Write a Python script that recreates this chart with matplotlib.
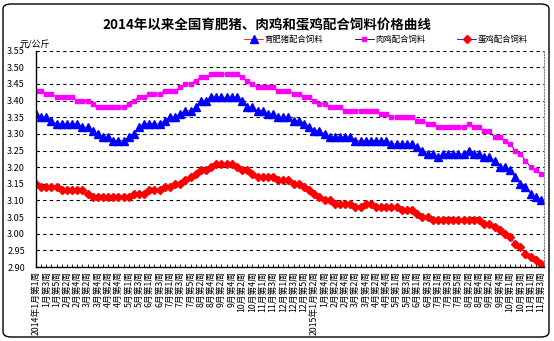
import numpy as np
import matplotlib
matplotlib.use('Agg')
import matplotlib.pyplot as plt
from matplotlib.patches import FancyBboxPatch
from matplotlib.ticker import FormatStrFormatter

plt.rcParams['font.family'] = ['Noto Sans CJK SC', 'DejaVu Sans']

title = '2014年以来全国育肥猪、肉鸡和蛋鸡配合饲料价格曲线'
names = ['育肥猪配合饲料', '肉鸡配合饲料', '蛋鸡配合饲料']

# tick labels, every other week
labels = ['2014年1月第1周', '1月第3周', '1月第5周', '2月第2周', '2月第4周', '3月第2周', '3月第4周',
          '4月第2周', '4月第4周', '5月第1周', '5月第3周', '6月第1周', '6月第3周', '7月第1周',
          '7月第3周', '7月第5周', '8月第2周', '8月第4周', '9月第2周', '9月第4周', '10月第2周',
          '10月第4周', '11月第1周', '11月第3周', '12月第1周', '12月第3周', '12月第5周',
          '2015年1月第2周', '1月第4周', '2月第2周', '2月第4周', '3月第2周', '3月第4周', '4月第2周',
          '4月第4周', '5月第1周', '5月第3周', '6月第1周', '6月第3周', '7月第1周', '7月第3周',
          '7月第5周', '8月第2周', '8月第4周', '9月第2周', '9月第4周', '10月第1周', '10月第3周',
          '11月第1周', '11月第3周']

# weekly prices, yuan/kg
hog = [3.36, 3.35, 3.35, 3.34, 3.33, 3.33, 3.33, 3.33, 3.33, 3.32,
       3.32, 3.31, 3.30, 3.29, 3.29, 3.28, 3.28, 3.28, 3.29, 3.30,
       3.32, 3.33, 3.33, 3.33, 3.33, 3.34, 3.35, 3.35, 3.36, 3.37,
       3.37, 3.38, 3.40, 3.40, 3.41, 3.41, 3.41, 3.41, 3.41, 3.41,
       3.40, 3.38, 3.38, 3.37, 3.37, 3.36, 3.36, 3.35, 3.35, 3.35,
       3.34, 3.34, 3.33, 3.32, 3.31, 3.31, 3.30, 3.29, 3.29, 3.29,
       3.29, 3.29, 3.28, 3.28, 3.28, 3.28, 3.28, 3.28, 3.28, 3.27,
       3.27, 3.27, 3.27, 3.27, 3.26, 3.25, 3.24, 3.24, 3.23, 3.24,
       3.24, 3.24, 3.24, 3.24, 3.25, 3.24, 3.24, 3.23, 3.23, 3.22,
       3.20, 3.20, 3.19, 3.17, 3.15, 3.14, 3.12, 3.11, 3.10]

broiler = [3.43, 3.43, 3.42, 3.42, 3.41, 3.41, 3.41, 3.41, 3.40, 3.40,
           3.40, 3.39, 3.38, 3.38, 3.38, 3.38, 3.38, 3.38, 3.39, 3.40,
           3.41, 3.41, 3.42, 3.42, 3.42, 3.43, 3.43, 3.43, 3.44, 3.45,
           3.45, 3.46, 3.47, 3.47, 3.48, 3.48, 3.48, 3.48, 3.48, 3.48,
           3.47, 3.46, 3.45, 3.44, 3.44, 3.44, 3.44, 3.43, 3.43, 3.43,
           3.42, 3.42, 3.41, 3.41, 3.40, 3.39, 3.39, 3.38, 3.38, 3.38,
           3.37, 3.37, 3.37, 3.37, 3.37, 3.37, 3.37, 3.36, 3.36, 3.35,
           3.35, 3.35, 3.35, 3.35, 3.34, 3.34, 3.33, 3.33, 3.32, 3.32,
           3.32, 3.32, 3.32, 3.32, 3.33, 3.32, 3.32, 3.31, 3.31, 3.29,
           3.29, 3.28, 3.27, 3.25, 3.24, 3.22, 3.20, 3.19, 3.18]

layer = [3.15, 3.14, 3.14, 3.14, 3.14, 3.13, 3.13, 3.13, 3.13, 3.13,
         3.12, 3.11, 3.11, 3.11, 3.11, 3.11, 3.11, 3.11, 3.11, 3.12,
         3.12, 3.12, 3.13, 3.13, 3.13, 3.14, 3.14, 3.15, 3.15, 3.16,
         3.17, 3.18, 3.19, 3.19, 3.20, 3.21, 3.21, 3.21, 3.21, 3.20,
         3.19, 3.19, 3.18, 3.17, 3.17, 3.17, 3.17, 3.16, 3.16, 3.16,
         3.15, 3.15, 3.14, 3.13, 3.12, 3.11, 3.10, 3.10, 3.09, 3.09,
         3.09, 3.09, 3.08, 3.08, 3.09, 3.09, 3.08, 3.08, 3.08, 3.08,
         3.08, 3.07, 3.07, 3.07, 3.06, 3.05, 3.05, 3.04, 3.04, 3.04,
         3.04, 3.04, 3.04, 3.04, 3.04, 3.04, 3.04, 3.03, 3.03, 3.02,
         3.01, 3.00, 2.99, 2.97, 2.96, 2.94, 2.93, 2.92, 2.91]

x = np.arange(len(hog))

fig = plt.figure(figsize=(5.54, 3.41), dpi=100)
ax = fig.add_axes([36/554, 74/341, 508/554, 216.3/341])

ax.plot(x, hog, color='red', lw=0.6, marker='^', ms=5.2, mfc='#0000FF', mec='#0000FF', label=names[0])
ax.plot(x, broiler, color='black', lw=0.6, marker='s', ms=2.8, mfc='#FF00FF', mec='#FF00FF', label=names[1])
ax.plot(x, layer, color='#0000FF', lw=0.6, marker='D', ms=4.4, mfc='red', mec='red', label=names[2])

ax.set_xlim(0, 98.6)
ax.set_ylim(2.90, 3.55)
ax.set_yticks(np.arange(2.90, 3.551, 0.05))
ax.yaxis.set_major_formatter(FormatStrFormatter('%.2f'))
ax.yaxis.grid(True, linestyle=(0, (3, 3)), color='black', linewidth=0.8)
ax.set_axisbelow(True)

ax.set_xticks(x[::2])
ax.set_xticklabels(labels, rotation=90, fontsize=6.3)
ax.set_xticks(x, minor=True)
ax.tick_params(axis='x', which='both', direction='in', length=2.5, width=0.6, pad=3)
ax.tick_params(axis='y', length=0, pad=8, labelsize=6.5)

ax.spines['top'].set_visible(False)
ax.spines['right'].set_linestyle(':')
ax.spines['right'].set_color('gray')
ax.spines['right'].set_linewidth(0.8)
ax.spines['left'].set_linewidth(1)
ax.spines['bottom'].set_linewidth(1)

fig.text(267/554, 1 - 25/341, title, ha='center', va='center', fontsize=9.7, fontweight='bold')
fig.text(20/554, 1 - 45/341, '元/公斤', ha='left', va='center', fontsize=6.5, style='italic')

fig.legend(loc='center', bbox_to_anchor=(386/554, 1 - 39/341), ncol=3, frameon=False,
           fontsize=6, handlelength=2.3, columnspacing=3.8, handletextpad=0.15)

fig.patches.append(FancyBboxPatch((3/554, 4/341), 546/554, 333/341,
                                  boxstyle='round,pad=0,rounding_size=0.015',
                                  transform=fig.transFigure, fill=False,
                                  edgecolor='black', lw=1))

fig.savefig('out.png', dpi=100)
